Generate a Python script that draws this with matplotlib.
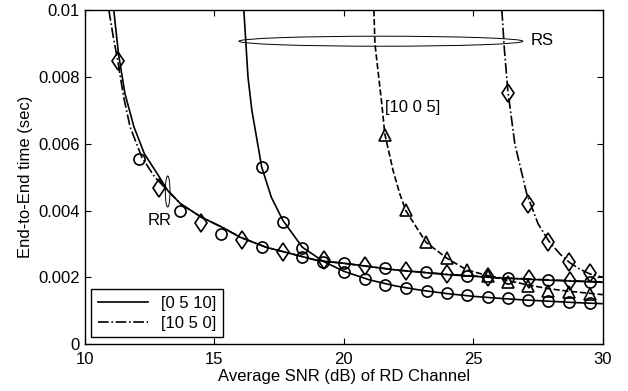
import numpy as np
from matplotlib import pyplot as plt
from matplotlib.patches import Ellipse

plt.rcParams['font.family'] = ['Liberation Sans', 'DejaVu Sans']
plt.rcParams['font.size'] = 12

# analytical curves (lines)
rr_solid_x = [11.12, 11.3, 11.55, 11.9, 12.3, 12.8, 13.2, 13.7, 14.5, 15.3, 16.0, 17.0,
              18.0, 19.0, 20.0, 22.0, 24.0, 26.0, 28.0, 30.0]
rr_solid_y = [0.0100, 0.0087, 0.0075, 0.0065, 0.0057, 0.0051, 0.0046, 0.0042, 0.0038, 0.0035,
              0.0032, 0.0029, 0.0027, 0.0025, 0.00242, 0.00222, 0.00208, 0.00198, 0.00191, 0.00185]

rr_dd_x = [10.93, 11.1, 11.27, 11.5, 11.75, 12.2, 12.7, 13.2, 13.7, 14.5, 15.3, 16.0, 17.0,
           18.0, 19.0, 20.0, 22.0, 24.0, 26.0, 28.0, 30.0]
rr_dd_y = [0.0100, 0.0092, 0.0085, 0.0074, 0.0065, 0.0056, 0.0050, 0.0046, 0.0042, 0.0038,
           0.0035, 0.0032, 0.0029, 0.0027, 0.0025, 0.00242, 0.00222, 0.00209, 0.00199, 0.00192,
           0.00186]

rs_solid_x = [16.14, 16.3, 16.45, 16.83, 17.2, 17.65, 18.4, 19.2, 20.0, 21.0, 22.0, 23.0,
              24.0, 25.0, 26.0, 27.0, 28.0, 29.0, 30.0]
rs_solid_y = [0.0100, 0.0080, 0.0070, 0.0053, 0.0044, 0.0037, 0.0029, 0.00248, 0.00218, 0.00192,
              0.00174, 0.00161, 0.00151, 0.00143, 0.00137, 0.00132, 0.00128, 0.00124, 0.00121]

rs_dash_x = [21.16, 21.2, 21.47, 21.58, 21.9, 22.16, 22.39, 22.8, 23.17, 23.98, 24.75, 25.56,
             26.33, 27.12, 27.9, 28.7, 29.5, 30.0]
rs_dash_y = [0.0100, 0.0090, 0.00716, 0.0063, 0.0052, 0.0045, 0.0040, 0.0035, 0.00305, 0.00257,
             0.00222, 0.00205, 0.0019, 0.00177, 0.00166, 0.00158, 0.00152, 0.00148]

rs_dd_x = [26.1, 26.2, 26.33, 26.6, 27.06, 27.5, 27.9, 28.34, 28.7, 29.1, 29.5, 30.0]
rs_dd_y = [0.0100, 0.0088, 0.0076, 0.0060, 0.0045, 0.0036, 0.0031, 0.0027, 0.00245, 0.00225,
           0.0021, 0.0020]

# simulation points (markers)
rr_circ_x = [12.08, 13.67, 15.25, 16.83, 18.4, 20.0, 21.6, 23.17, 24.75, 26.33, 27.9, 29.5]
rr_circ_y = [0.00554, 0.00398, 0.00329, 0.0029, 0.0026, 0.00243, 0.00227, 0.00216, 0.00204,
             0.00198, 0.00192, 0.00186]
rr_diam_x = [11.27, 12.86, 14.48, 16.06, 17.65, 19.23, 20.81, 22.39, 23.98, 25.56, 27.15, 28.73]
rr_diam_y = [0.00847, 0.00467, 0.00362, 0.00311, 0.00275, 0.00251, 0.00234, 0.00219, 0.0021,
             0.00202, 0.00195, 0.00189]
rs_circ_x = [16.83, 17.65, 18.4, 19.2, 20.0, 20.8, 21.6, 22.4, 23.2, 24.0, 24.75, 25.56, 26.33,
             27.12, 27.9, 28.7, 29.5]
rs_circ_y = [0.0053, 0.00365, 0.00288, 0.00246, 0.00216, 0.00195, 0.00177, 0.00167, 0.00159,
             0.00152, 0.00146, 0.00141, 0.00137, 0.00133, 0.0013, 0.00127, 0.00124]
rs_tri_x = [21.58, 22.39, 23.17, 23.98, 24.75, 25.56, 26.33, 27.12, 27.9, 28.7, 29.5]
rs_tri_y = [0.00626, 0.00401, 0.00305, 0.00257, 0.00222, 0.00203, 0.00186, 0.00173, 0.00159,
            0.00156, 0.0015]
rs_diam_x = [26.33, 27.12, 27.9, 28.7, 29.5]
rs_diam_y = [0.00751, 0.00421, 0.00305, 0.00245, 0.00212]

fig = plt.figure(figsize=(6.28, 3.91), dpi=100)
ax = fig.add_axes([0.135, 0.12, 0.825, 0.854])

lw = 1.2
ax.plot(rr_solid_x, rr_solid_y, '-k', lw=lw, label='[0 5 10]')
ax.plot(rr_dd_x, rr_dd_y, '-.k', lw=lw, label='[10 5 0]')
ax.plot(rs_solid_x, rs_solid_y, '-k', lw=lw)
ax.plot(rs_dash_x, rs_dash_y, '--k', lw=lw)
ax.plot(rs_dd_x, rs_dd_y, '-.k', lw=lw)

mk = dict(ls='none', mfc='none', mec='k', mew=1.2)
ax.plot(rr_circ_x, rr_circ_y, 'o', ms=8, **mk)
ax.plot(rr_diam_x, rr_diam_y, 'd', ms=9.5, **mk)
ax.plot(rs_circ_x, rs_circ_y, 'o', ms=8, **mk)
ax.plot(rs_tri_x, rs_tri_y, '^', ms=8, **mk)
ax.plot(rs_diam_x, rs_diam_y, 'd', ms=9.5, **mk)

ax.add_patch(Ellipse((21.43, 0.00907), 10.96, 0.0003, fc='none', ec='k', lw=0.7))
ax.add_patch(Ellipse((13.2, 0.00457), 0.18, 0.00093, fc='none', ec='k', lw=0.7))
ax.text(27.2, 0.0091, 'RS', ha='left', va='center')
ax.text(12.9, 0.0037, 'RR', ha='center', va='center')
ax.text(21.6, 0.0071, '[10 0 5]', ha='left', va='center')

ax.set_xlim(10, 30)
ax.set_ylim(0, 0.01)
ax.set_xticks([10, 15, 20, 25, 30])
ax.set_yticks([0, 0.002, 0.004, 0.006, 0.008, 0.01])
ax.set_yticklabels(['0', '0.002', '0.004', '0.006', '0.008', '0.01'])
ax.tick_params(direction='in', top=True, right=True, length=4, width=0.8)
ax.tick_params(axis='x', pad=6)
for s in ax.spines.values():
    s.set_linewidth(1.0)
ax.set_xlabel('Average SNR (dB) of RD Channel', labelpad=1)
ax.set_ylabel('End-to-End time (sec)', labelpad=4)

leg = ax.legend(loc='lower left', handlelength=3.0, borderaxespad=0.4, fancybox=False,
                framealpha=1, edgecolor='k', labelspacing=0.3, borderpad=0.4)
leg.get_frame().set_linewidth(1.0)

fig.savefig('out.png', dpi=100)
